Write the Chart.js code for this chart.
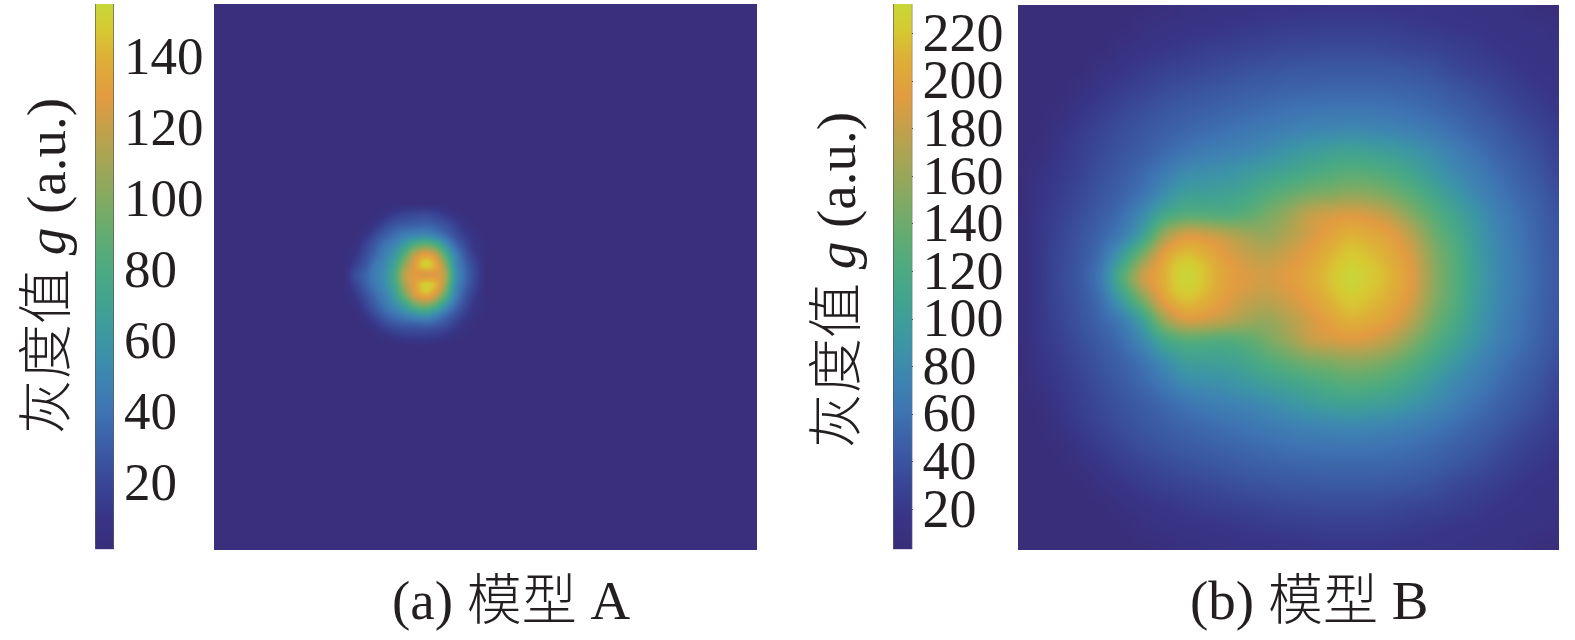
<!DOCTYPE html>
<html>
<head>
<meta charset="utf-8">
<script src="https://cdn.jsdelivr.net/npm/chart.js@4.4.0/dist/chart.umd.min.js"></script>
<style>
  html, body { margin: 0; background: #fff; overflow: hidden; }
  body { width: 1575px; height: 640px; position: relative; font-family: 'Liberation Serif', 'Noto Sans CJK SC', serif; color: #231f20; }
  .box { position: absolute; }
  .label { position: absolute; white-space: nowrap; font-size: 55px; line-height: 1; font-weight: 300; }
  .ytitle { transform: translate(-50%, -50%) rotate(-90deg); }
</style>
</head>
<body>
<div class="box" style="left:95px;top:0;width:120px;height:560px"><canvas id="barA"></canvas></div>
<div class="box" style="left:214px;top:4px;width:543px;height:546px"><canvas id="heatA"></canvas></div>
<div class="box" style="left:893px;top:0;width:125px;height:560px"><canvas id="barB"></canvas></div>
<div class="box" style="left:1018px;top:5px;width:541px;height:545px"><canvas id="heatB"></canvas></div>

<div class="label ytitle" style="left:46px;top:266px">灰度值 <i>g</i> (a.u.)</div>
<div class="label ytitle" style="left:836px;top:280px">灰度值 <i>g</i> (a.u.)</div>
<div class="label" style="left:392px;top:573px">(a) 模型 A</div>
<div class="label" style="left:1190px;top:573px">(b) 模型 B</div>

<script>
// colour scale (fraction of range -> colour)
const colorStops = [0, 0.06, 0.12, 0.2, 0.25, 0.31, 0.38, 0.45, 0.51, 0.58, 0.64, 0.71, 0.77, 0.83, 0.9, 0.95, 1];
const colorValues = [
  [57,46,122], [56,53,135], [57,70,150], [60,97,168], [62,115,178], [62,132,178], [60,150,165], [65,162,145],
  [75,170,130], [100,172,112], [130,170,98], [165,165,85], [195,160,75], [226,155,65], [222,175,55], [215,200,50], [200,215,55]
];

// panel (a) colour bar
const rangeA = [1.3, 154.8];
const ticksA = [20, 40, 60, 80, 100, 120, 140];

// panel (b) colour bar
const rangeB = [3.1, 232.5];
const ticksB = [20, 40, 60, 80, 100, 120, 140, 160, 180, 200, 220];

// panel (a): flat background plus the small blob, cells are 10 px wide
const extentA = [54.3, 54.6];
const backgroundA = 3;
const colsA = [13.1, 14.1, 15.1, 16.1, 17.1, 18.1, 19.1, 20.1, 21.1, 22.1, 23.1, 24.1, 25.1, 26.1, 27.1];
const rowsA = [20.1, 21.1, 22.1, 23.1, 24.1, 25.1, 26.1, 27.1, 28.1, 29.1, 30.1, 31.1, 32.1, 33.1, 34.1];
const valuesA = [
  [3, 3, 3, 3, 3, 4, 6, 8, 8, 6, 4, 3, 3, 3, 3],
  [3, 3, 3, 4, 9, 15, 19, 21, 22, 19, 14, 8, 4, 3, 3],
  [3, 3, 4, 10, 20, 27, 30, 32, 33, 30, 25, 17, 8, 4, 3],
  [3, 3, 9, 21, 30, 38, 46, 50, 52, 46, 36, 24, 15, 7, 3],
  [3, 6, 18, 29, 41, 50, 66, 84, 92, 84, 60, 36, 22, 10, 5],
  [3, 10, 22, 34, 47, 62, 88, 118, 132, 122, 85, 50, 28, 14, 6],
  [4, 16, 27, 42, 52, 72, 105, 130, 150, 138, 105, 56, 34, 19, 8],
  [8, 22, 33, 44, 56, 80, 116, 128, 125, 128, 114, 60, 36, 20, 7],
  [6, 18, 30, 43, 54, 76, 110, 132, 150, 142, 108, 56, 34, 18, 7],
  [4, 12, 24, 36, 48, 66, 96, 124, 138, 125, 90, 50, 28, 14, 6],
  [3, 7, 18, 30, 42, 54, 70, 92, 100, 88, 62, 38, 22, 10, 5],
  [3, 3, 10, 22, 32, 40, 48, 56, 60, 52, 38, 26, 15, 7, 3],
  [3, 3, 5, 11, 20, 26, 29, 30, 32, 29, 24, 16, 8, 4, 3],
  [3, 3, 3, 4, 9, 13, 16, 17, 17, 15, 12, 7, 4, 3, 3],
  [3, 3, 3, 3, 3, 4, 5, 6, 6, 5, 4, 3, 3, 3, 3]
];

// panel (b): whole image on a 27 x 27 grid
const extentB = [26, 26];
const backgroundB = null;
const colsB = [0, 1, 2, 3, 4, 5, 6, 7, 8, 9, 10, 11, 12, 13, 14, 15, 16, 17, 18, 19, 20, 21, 22, 23, 24, 25, 26];
const rowsB = [0, 1, 2, 3, 4, 5, 6, 7, 8, 9, 10, 11, 12, 13, 14, 15, 16, 17, 18, 19, 20, 21, 22, 23, 24, 25, 26];
const valuesB = [
  [3, 3, 3, 3, 3, 3, 3, 5, 10, 11, 12, 13, 14, 15, 16, 17, 17, 17, 16, 16, 15, 15, 13, 12, 11, 4, 3],
  [3, 3, 3, 3, 3, 3, 9, 12, 14, 15, 17, 19, 21, 22, 23, 24, 24, 24, 23, 21, 19, 17, 16, 14, 13, 12, 9],
  [3, 3, 3, 3, 3, 10, 14, 17, 20, 23, 25, 27, 29, 31, 32, 33, 33, 33, 31, 29, 27, 24, 21, 17, 15, 14, 12],
  [3, 3, 3, 3, 11, 16, 21, 25, 28, 31, 34, 37, 39, 41, 42, 43, 43, 43, 42, 40, 37, 31, 27, 23, 18, 15, 14],
  [3, 3, 3, 10, 17, 23, 28, 33, 37, 40, 43, 46, 48, 50, 51, 52, 52, 52, 51, 49, 46, 41, 36, 30, 24, 19, 16],
  [3, 3, 7, 16, 23, 30, 36, 41, 45, 48, 51, 54, 57, 60, 62, 63, 64, 63, 61, 58, 54, 49, 44, 37, 30, 24, 19],
  [3, 4, 13, 22, 29, 36, 42, 47, 52, 56, 60, 64, 68, 72, 76, 78, 80, 78, 75, 71, 65, 58, 51, 45, 37, 30, 23],
  [3, 6, 17, 25, 33, 40, 46, 54, 62, 68, 72, 76, 82, 90, 97, 103, 106, 103, 98, 90, 80, 70, 60, 51, 44, 36, 27],
  [3, 12, 20, 28, 37, 45, 54, 66, 80, 84, 88, 95, 103, 110, 118, 125, 130, 127, 120, 108, 93, 79, 69, 58, 49, 41, 31],
  [3, 15, 23, 32, 41, 50, 62, 82, 100, 102, 105, 112, 125, 135, 145, 150, 155, 152, 142, 128, 111, 93, 77, 65, 54, 46, 36],
  [4, 17, 26, 36, 46, 58, 80, 112, 128, 128, 126, 132, 145, 160, 178, 186, 190, 185, 172, 150, 128, 108, 89, 72, 60, 49, 40],
  [4, 18, 29, 40, 52, 70, 105, 160, 188, 186, 176, 165, 160, 172, 186, 200, 210, 205, 195, 172, 142, 120, 96, 76, 63, 51, 42],
  [4, 18, 31, 42, 60, 100, 150, 198, 218, 210, 194, 182, 178, 186, 198, 212, 222, 216, 205, 185, 152, 127, 100, 79, 65, 52, 44],
  [4, 18, 32, 44, 68, 125, 180, 208, 230, 218, 200, 190, 186, 194, 204, 218, 230, 222, 210, 190, 155, 128, 102, 80, 66, 53, 44],
  [4, 18, 31, 42, 60, 100, 150, 198, 218, 210, 194, 182, 178, 186, 198, 212, 222, 216, 205, 185, 152, 127, 100, 79, 65, 52, 44],
  [4, 18, 29, 40, 52, 70, 105, 160, 188, 186, 176, 165, 160, 172, 186, 200, 210, 205, 195, 172, 142, 120, 96, 76, 63, 51, 42],
  [4, 17, 26, 36, 46, 58, 80, 112, 128, 128, 126, 132, 145, 160, 178, 186, 190, 185, 172, 150, 128, 108, 89, 72, 60, 49, 40],
  [3, 15, 23, 32, 41, 50, 62, 82, 100, 102, 105, 112, 125, 135, 145, 150, 155, 152, 142, 128, 111, 93, 77, 65, 54, 46, 36],
  [3, 12, 20, 28, 37, 45, 54, 66, 80, 84, 88, 95, 103, 110, 118, 125, 130, 127, 120, 108, 93, 79, 69, 58, 49, 41, 31],
  [3, 6, 17, 25, 33, 40, 46, 54, 62, 68, 72, 76, 82, 90, 97, 103, 106, 103, 98, 90, 80, 70, 60, 51, 44, 36, 27],
  [3, 4, 13, 22, 29, 36, 42, 47, 52, 56, 60, 64, 68, 72, 76, 78, 80, 78, 75, 71, 65, 58, 51, 45, 37, 30, 23],
  [3, 3, 7, 16, 23, 30, 36, 41, 45, 48, 51, 54, 57, 60, 62, 63, 64, 63, 61, 58, 54, 49, 44, 37, 30, 24, 19],
  [3, 3, 3, 10, 17, 23, 28, 33, 37, 40, 43, 46, 48, 50, 51, 52, 52, 52, 51, 49, 46, 41, 36, 30, 24, 19, 16],
  [3, 3, 3, 3, 11, 16, 21, 25, 28, 31, 34, 37, 39, 41, 42, 43, 43, 43, 42, 40, 37, 31, 27, 23, 18, 15, 14],
  [3, 3, 3, 3, 3, 10, 14, 17, 20, 23, 25, 27, 29, 31, 32, 33, 33, 33, 31, 29, 27, 24, 21, 17, 15, 14, 12],
  [3, 3, 3, 3, 3, 3, 9, 12, 14, 15, 17, 19, 21, 22, 23, 24, 24, 24, 23, 21, 19, 17, 16, 14, 13, 12, 9],
  [3, 3, 3, 3, 3, 3, 3, 5, 10, 11, 12, 13, 14, 15, 16, 17, 17, 17, 16, 16, 15, 15, 13, 12, 11, 4, 3]
];

Chart.defaults.animation = false;
Chart.defaults.responsive = false;
Chart.defaults.font.family = "'Liberation Serif', serif";

function colorAt(f) {
  f = Math.min(1, Math.max(0, f));
  let i = 0;
  while (i < colorStops.length - 2 && f > colorStops[i + 1]) i++;
  const t = (f - colorStops[i]) / (colorStops[i + 1] - colorStops[i]);
  return colorValues[i].map((c, k) => c + (colorValues[i + 1][k] - c) * t);
}

function weights(t) {
  // catmull-rom, only used to shade between the cells
  return [(-t + 2*t*t - t*t*t) / 2, (2 - 5*t*t + 3*t*t*t) / 2, (t + 4*t*t - 3*t*t*t) / 2, (-t*t + t*t*t) / 2];
}

// shading plugin: paints the dataset's cells into the plot area through its scales
const shading = {
  id: 'shading',
  beforeDatasetsDraw(chart, args, opts) {
    const { ctx, chartArea: area, scales: { x, y } } = chart;
    const pts = chart.data.datasets[0].data;
    const xs = [...new Set(pts.map(p => p.x))].sort((a, b) => a - b);
    const ys = [...new Set(pts.map(p => p.y))].sort((a, b) => a - b);
    const grid = ys.map(() => new Array(xs.length));
    pts.forEach(p => { grid[ys.indexOf(p.y)][xs.indexOf(p.x)] = p.v; });
    const left = Math.round(area.left), top = Math.round(area.top);
    const w = Math.round(area.right) - left, h = Math.round(area.bottom) - top;
    const img = ctx.createImageData(w, h);
    const dx = xs[1] - xs[0], dy = ys[1] - ys[0];
    const locate = (v, arr, d) => {
      const u = (v - arr[0]) / d;
      const i = Math.floor(u);
      return { i, t: u - i, w: weights(u - i), out: u < 0 || u > arr.length - 1 };
    };
    const colPos = [], rowPos = [];
    for (let px = 0; px < w; px++) colPos.push(locate(x.getValueForPixel(left + px + 0.5), xs, dx));
    for (let py = 0; py < h; py++) rowPos.push(locate(y.getValueForPixel(top + py + 0.5), ys, dy));
    const at = (r, c) => grid[Math.min(ys.length - 1, Math.max(0, r))][Math.min(xs.length - 1, Math.max(0, c))];
    for (let py = 0; py < h; py++) {
      const R = rowPos[py];
      for (let px = 0; px < w; px++) {
        const C = colPos[px];
        let v = opts.background;
        if (!R.out && !C.out) {
          v = 0;
          for (let a = 0; a < 4; a++) for (let b = 0; b < 4; b++) {
            v += R.w[a] * C.w[b] * at(R.i + a - 1, C.i + b - 1);
          }
        }
        const rgb = colorAt((v - opts.range[0]) / (opts.range[1] - opts.range[0]));
        const k = (py * w + px) * 4;
        img.data[k] = rgb[0]; img.data[k + 1] = rgb[1]; img.data[k + 2] = rgb[2]; img.data[k + 3] = 255;
      }
    }
    ctx.putImageData(img, left, top);
  }
};

function cells(cols, rows, values) {
  const out = [];
  rows.forEach((r, j) => cols.forEach((c, i) => out.push({ x: c, y: r, v: values[j][i] })));
  return out;
}

function heatChart(id, cols, rows, values, extent, range, background) {
  return new Chart(document.getElementById(id), {
    type: 'scatter',
    data: { datasets: [{ data: cells(cols, rows, values), pointRadius: 0 }] },
    options: {
      layout: { padding: 0 },
      plugins: { legend: { display: false }, tooltip: { enabled: false }, shading: { range, background } },
      scales: {
        x: { display: false, min: 0, max: extent[0] },
        y: { display: false, min: 0, max: extent[1], reverse: true },
      },
    },
    plugins: [shading],
  });
}

function colorBar(id, range, ticks, fontSize, axisWidth) {
  return new Chart(document.getElementById(id), {
    type: 'bar',
    data: {
      labels: ['g'],
      datasets: [{
        data: [range],
        backgroundColor(c) {
          const area = c.chart.chartArea;
          if (!area) return '#3a5da8';
          const g = c.chart.ctx.createLinearGradient(0, area.bottom, 0, area.top);
          colorStops.forEach((f, i) => g.addColorStop(f, `rgb(${colorValues[i].join(',')})`));
          return g;
        },
        borderSkipped: false,
        borderWidth: { left: 1, right: 1, top: 0, bottom: 0 },
        borderColor: '#5a5a58',
        barPercentage: 1,
        categoryPercentage: 1,
      }],
    },
    options: {
      layout: { padding: { top: 4, bottom: 10.5 } },
      plugins: { legend: { display: false }, tooltip: { enabled: false } },
      scales: {
        x: { display: false },
        y: {
          position: 'right',
          min: range[0],
          max: range[1],
          afterBuildTicks: s => { s.ticks = ticks.map(v => ({ value: v })); },
          afterFit: s => { s.width = axisWidth; s.paddingTop = 0; s.paddingBottom = 0; },
          grid: { drawOnChartArea: false, tickLength: -6, tickColor: '#3c3c3a', tickWidth: 1 },
          border: { display: false },
          ticks: { color: '#231f20', font: { size: fontSize, family: "'Liberation Serif', serif" }, padding: 16, labelOffset: 3, crossAlign: 'near', autoSkip: false, maxRotation: 0 },
        },
      },
    },
  });
}

function size(id, w, h) {
  const c = document.getElementById(id);
  c.width = w; c.height = h;
}
size('barA', 120, 560); size('heatA', 543, 546);
size('barB', 125, 560); size('heatB', 541, 545);

colorBar('barA', rangeA, ticksA, 53, 101);
heatChart('heatA', colsA, rowsA, valuesA, extentA, rangeA, backgroundA);
colorBar('barB', rangeB, ticksB, 54, 105.5);
heatChart('heatB', colsB, rowsB, valuesB, extentB, rangeB, backgroundB);
</script>
</body>
</html>
